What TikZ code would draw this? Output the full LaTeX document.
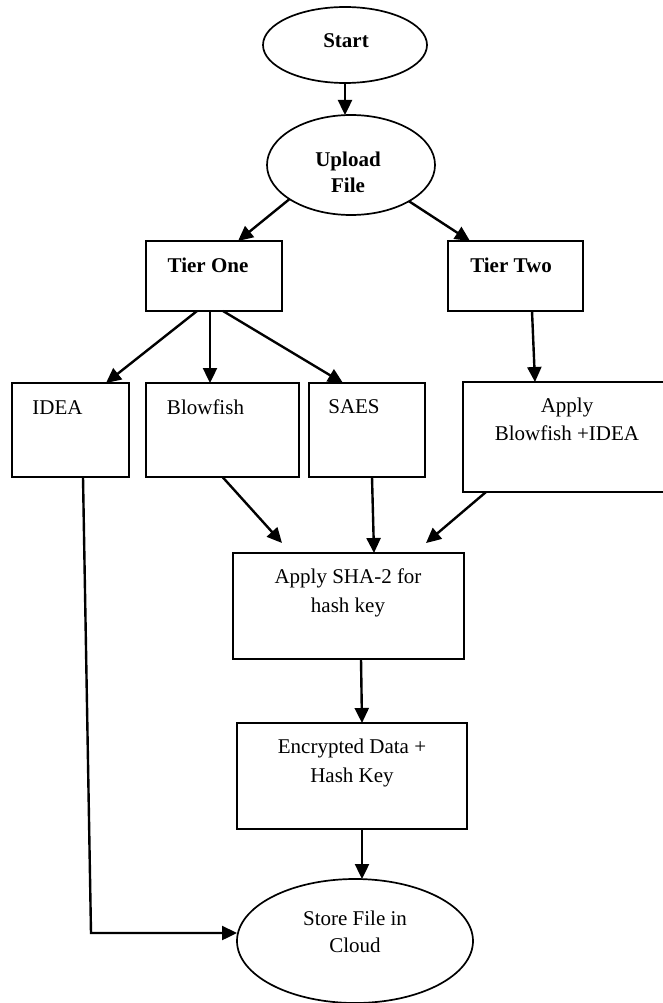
\documentclass[tikz,border=0pt]{standalone}
\usepackage{fontspec}
\setmainfont{Liberation Serif}
\usetikzlibrary{arrows.meta,shapes.geometric,calc}
\begin{document}
\begin{tikzpicture}[x=1pt,y=-1pt,
  shapebox/.style={draw,line width=1.9pt,rectangle,inner sep=0pt,outer sep=0pt},
  oval/.style={draw,line width=1.7pt,ellipse,inner sep=0pt,outer sep=0pt},
  txt/.style={anchor=base,inner sep=0pt,align=center,font=\fontsize{21}{29}\selectfont},
  boldtxt/.style={txt,font=\fontsize{21}{26}\selectfont\bfseries},
  flow/.style={line width=2.4pt,-{Triangle[length=15pt,width=14pt]}}]
\useasboundingbox (0,0) rectangle (663,1003);

% shapes
\node[oval,minimum width=164,minimum height=76] (start) at (345,45) {};
\node[oval,minimum width=168,minimum height=100] (up) at (351,165) {};
\node[shapebox,minimum width=136,minimum height=70] (t1) at (214,276) {};
\node[shapebox,minimum width=135,minimum height=70] (t2) at (515.5,276) {};
\node[shapebox,minimum width=117,minimum height=94] (idea) at (70.5,430) {};
\node[shapebox,minimum width=153,minimum height=94] (blow) at (222.5,430) {};
\node[shapebox,minimum width=116,minimum height=94] (saes) at (367,430) {};
\node[shapebox,minimum width=202,minimum height=110] (apply) at (564,437) {};
\node[shapebox,minimum width=231,minimum height=106] (sha) at (348.5,606) {};
\node[shapebox,minimum width=230,minimum height=106] (enc) at (352,776) {};
\node[oval,minimum width=236,minimum height=124] (store) at (355,941) {};

% labels (base anchor = baseline of the last line)
\node[boldtxt] (startT) at (346,48) {Start};
\node[boldtxt] (upT) at (348,193) {Upload\\File};
\node[boldtxt] (t1T) at (208,272) {Tier One};
\node[boldtxt] (t2T) at (511,272) {Tier Two};
\node[txt] (ideaT) at (57.5,414) {IDEA};
\node[txt] (blowT) at (205.5,414) {Blowfish};
\node[txt] (saesT) at (354,413) {SAES};
\node[txt] (applyT) at (567,440) {Apply\\[-1pt]Blowfish +IDEA};
\node[txt] (shaT) at (348,612) {Apply SHA-2 for\\hash key};
\node[txt] (encT) at (352,782) {Encrypted Data +\\Hash Key};
\node[txt] (storeT) at (355,952) {Store File in\\[-2pt]Cloud};

% connectors
\draw[flow] (start.south) -- (start.south |- up.north);
\draw[flow] (up.209) -- ($(t1.north)+(24,0)$);
\draw[flow] (up.-32) -- ($(t2.north)+(-45.5,0)$);
\draw[flow] ($(t1.south)+(-17,0)$) -- ($(idea.north)+(35.5,0)$);
\draw[flow] ($(t1.south)+(-4,0)$) -- ($(blow.north)+(-12.5,0)$);
\draw[flow] ($(t1.south)+(9,0)$) -- ($(saes.north)+(-24,0)$);
\draw[flow] ($(t2.south)+(16.5,0)$) -- ($(apply.north)+(-29,0)$);
\draw[flow] (blow.south) -- ($(sha.north)+(-66.5,-10)$);
\draw[flow] ($(saes.south)+(5,0)$) -- ($(sha.north)+(25.5,0)$);
\draw[flow] ($(apply.south)+(-78,0)$) -- ($(sha.north)+(77.5,-10)$);
\draw[flow] ($(sha.south)+(12.5,0)$) -- ($(enc.north)+(10,0)$);
\draw[flow] ($(enc.south)+(10,0)$) -- ($(store.north)+(7,0)$);
\coordinate (bend) at (91,933);
\draw[flow] ($(idea.south)+(12.5,0)$) -- (bend) -- (store.west |- bend);
\end{tikzpicture}
\end{document}
